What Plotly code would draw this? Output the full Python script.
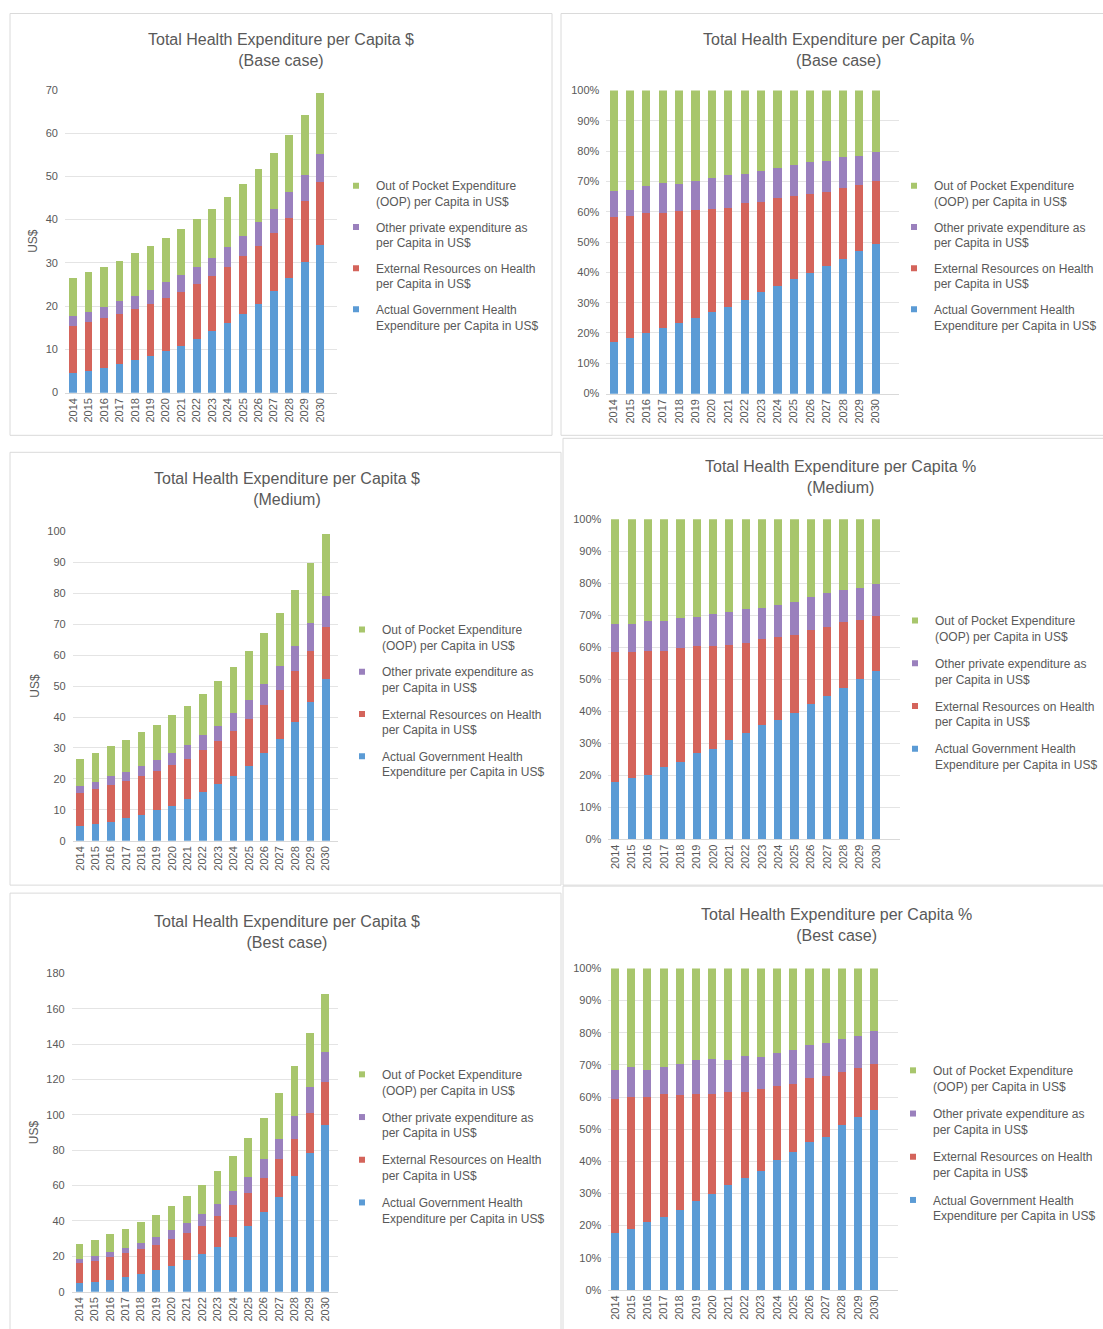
import numpy as np
import plotly.graph_objects as go

W, H = 1103, 1329

years = [str(y) for y in range(2014, 2031)]

series_names = [
    "Actual Government Health<br>Expenditure per Capita in US$",
    "External Resources on Health<br>per Capita in US$",
    "Other private expenditure as<br>per Capita in US$",
    "Out of Pocket Expenditure<br>(OOP) per Capita in US$",
]
colors = ["#5B9BD5", "#D4645B", "#9A80BD", "#A8C66C"]

# ---- Base case (US$) ----
base_gov = [4.5, 5.1, 5.8, 6.6, 7.5, 8.5, 9.6, 10.8, 12.4, 14.2, 16.0, 18.2, 20.6, 23.4, 26.4, 30.1, 34.1]
base_ext = [11.0, 11.2, 11.5, 11.6, 11.9, 12.0, 12.2, 12.4, 12.8, 12.7, 13.1, 13.3, 13.3, 13.6, 14.0, 14.1, 14.5]
base_oth = [2.3, 2.4, 2.6, 3.0, 2.9, 3.3, 3.7, 4.0, 3.8, 4.3, 4.5, 4.8, 5.5, 5.5, 6.0, 6.1, 6.6]
base_oop = [8.8, 9.1, 9.2, 9.3, 9.9, 10.1, 10.3, 10.6, 11.1, 11.3, 11.6, 11.9, 12.2, 13.0, 13.1, 13.8, 14.0]

# ---- Medium (US$) ----
med_gov = [4.7, 5.4, 6.1, 7.4, 8.4, 10.1, 11.4, 13.6, 15.7, 18.3, 20.9, 24.3, 28.3, 33.0, 38.3, 44.9, 52.2]
med_ext = [10.8, 11.2, 11.8, 11.8, 12.5, 12.5, 13.0, 12.9, 13.5, 13.9, 14.7, 14.9, 15.6, 15.7, 16.5, 16.4, 16.9]
med_oth = [2.3, 2.5, 2.9, 3.0, 3.3, 3.4, 4.1, 4.6, 5.0, 5.0, 5.6, 6.3, 6.9, 7.8, 8.2, 9.1, 9.9]
med_oop = [8.7, 9.3, 9.7, 10.4, 10.8, 11.5, 12.0, 12.6, 13.3, 14.3, 15.0, 15.9, 16.2, 17.0, 17.9, 19.2, 20.1]

# ---- Best case (US$) ----
best_gov = [4.8, 5.5, 6.8, 8.1, 9.8, 12.0, 14.5, 17.7, 21.1, 25.4, 31.1, 37.3, 45.1, 53.5, 65.4, 78.6, 94.1]
best_ext = [11.2, 12.0, 12.6, 13.6, 14.1, 14.4, 15.1, 15.7, 16.2, 17.4, 17.7, 18.5, 19.4, 21.3, 20.9, 22.4, 24.3]
best_oth = [2.5, 2.7, 2.8, 3.0, 3.8, 4.7, 5.3, 5.4, 6.8, 6.8, 7.9, 9.2, 10.3, 11.5, 13.2, 14.9, 16.9]
best_oop = [8.5, 9.0, 10.2, 10.9, 11.7, 12.3, 13.7, 15.5, 16.4, 18.8, 20.2, 22.1, 23.2, 25.9, 28.1, 30.6, 33.0]

scenarios = {
    "Base case": [base_gov, base_ext, base_oth, base_oop],
    "Medium": [med_gov, med_ext, med_oth, med_oop],
    "Best case": [best_gov, best_ext, best_oth, best_oop],
}


def to_pct(series):
    arr = np.array(series, dtype=float)
    return (arr / arr.sum(axis=0) * 100.0).tolist()


TXT = "#595959"
GRID = "#E4E4E4"
FONT = "Liberation Sans, Arial, sans-serif"


def py(v):
    # vertical pixel target -> layout pixel (compensates observed render offset)
    return (v - 5.5) / 0.9914


# panel layout: (scenario, kind, plot x0,x1 px, plot y_top,y_bottom px, x range, y max, dtick,
#                title center x, title center y, legend text x, legend first line y, legend gap, frame)
panels = [
    ("Base case", "$", 65, 337, 89.3, 392.3, [-0.53, 17.09], 70, 10, 281, 49.5, 376, 186, 7, (10, 13, 552, 435)),
    ("Base case", "%", 606.4, 899, 90, 393.3, [-0.44, 17.42], 100, 10, 838, 49.5, 934, 186, 7, (561, 13, 1110, 435)),
    ("Medium", "$", 72.7, 338, 531, 840.7, [-0.48, 16.8], 100, 10, 286.5, 489, 382, 630, 8, (10, 452, 561, 885)),
    ("Medium", "%", 608.3, 900, 519, 839, [-0.43, 17.47], 100, 10, 840.5, 476.5, 935, 621, 8.5, (563, 438, 1110, 885)),
    ("Best case", "$", 71.7, 338, 973.3, 1291.7, [-0.5, 16.84], 180, 20, 286.5, 931.5, 382, 1075, 8.5, (10, 893, 561, 1345)),
    ("Best case", "%", 608.3, 898.3, 968.3, 1290, [-0.41, 17.48], 100, 10, 836.5, 924.5, 933, 1071, 9, (563, 886, 1110, 1345)),
]

fig = go.Figure()
layout = dict(
    width=W, height=H,
    margin=dict(l=0, r=0, t=0, b=0),
    paper_bgcolor="white", plot_bgcolor="white",
    barmode="stack", bargap=0.5,
    font=dict(family=FONT, color=TXT, size=11),
    annotations=[], shapes=[],
)

for i, (scen, kind, x0, x1, yt, yb, xr, ymax, dt, tcx, tcy, lx, ly, lgap, frame) in enumerate(panels):
    n = i + 1
    xa = "x" if n == 1 else f"x{n}"
    ya = "y" if n == 1 else f"y{n}"
    xkey = "xaxis" if n == 1 else f"xaxis{n}"
    ykey = "yaxis" if n == 1 else f"yaxis{n}"
    lkey = "legend" if n == 1 else f"legend{n}"

    data = scenarios[scen]
    vals = to_pct(data) if kind == "%" else data

    # legend entries (small square markers), top-to-bottom order
    for s in [3, 2, 1, 0]:
        fig.add_trace(go.Scatter(
            x=[None], y=[None], mode="markers", name=series_names[s],
            marker=dict(symbol="square", size=6, color=colors[s]),
            legendgroup=f"p{n}s{s}", legend=lkey, showlegend=True,
            xaxis=xa, yaxis=ya, hoverinfo="skip",
        ))
    for s in range(4):
        fig.add_trace(go.Bar(
            x=years, y=vals[s], name=series_names[s].replace("<br>", " "),
            marker=dict(color=colors[s], line=dict(width=0)),
            legendgroup=f"p{n}s{s}", showlegend=False,
            xaxis=xa, yaxis=ya,
        ))

    layout[xkey] = dict(
        domain=[x0 / W, x1 / W], anchor=ya, type="category",
        range=xr, tickangle=-90, showgrid=False, ticks="",
        showline=True, linecolor="#D9D9D9", linewidth=1,
        tickfont=dict(size=11, color=TXT), fixedrange=True,
    )
    yd = dict(
        domain=[1 - py(yb) / H, 1 - py(yt) / H], anchor=xa,
        range=[0, ymax], dtick=dt, showgrid=True, gridcolor=GRID, gridwidth=1,
        zeroline=False, showline=False, ticks="",
        tickfont=dict(size=11, color=TXT), ticklabelstandoff=6, fixedrange=True,
    )
    if kind == "%":
        yd["ticksuffix"] = "%"
    else:
        yd["title"] = dict(text="US$", font=dict(size=12, color=TXT), standoff=5)
    layout[ykey] = yd

    layout[lkey] = dict(
        x=(lx - 40) / W, y=1 - py(ly - 15) / H, xanchor="left", yanchor="top",
        font=dict(size=12, color=TXT, family=FONT), bgcolor="rgba(0,0,0,0)",
        tracegroupgap=lgap, valign="top", traceorder="grouped",
    )

    symbol = "$" if kind == "$" else "%"
    layout["annotations"].append(dict(
        text=f"Total Health Expenditure per Capita {symbol}<br>({scen})",
        x=tcx / W, y=1 - py(tcy) / H, xref="paper", yref="paper",
        xanchor="center", yanchor="middle", showarrow=False,
        font=dict(size=16, color=TXT, family=FONT),
    ))
    fx0, fy0, fx1, fy1 = frame
    layout["shapes"].append(dict(
        type="rect", xref="paper", yref="paper", layer="below",
        x0=fx0 / W, x1=fx1 / W, y0=1 - py(fy1) / H, y1=1 - py(fy0) / H,
        line=dict(color="#DADADA", width=1), fillcolor="rgba(0,0,0,0)",
    ))

fig.update_layout(**layout)
fig.write_html("out.html")
